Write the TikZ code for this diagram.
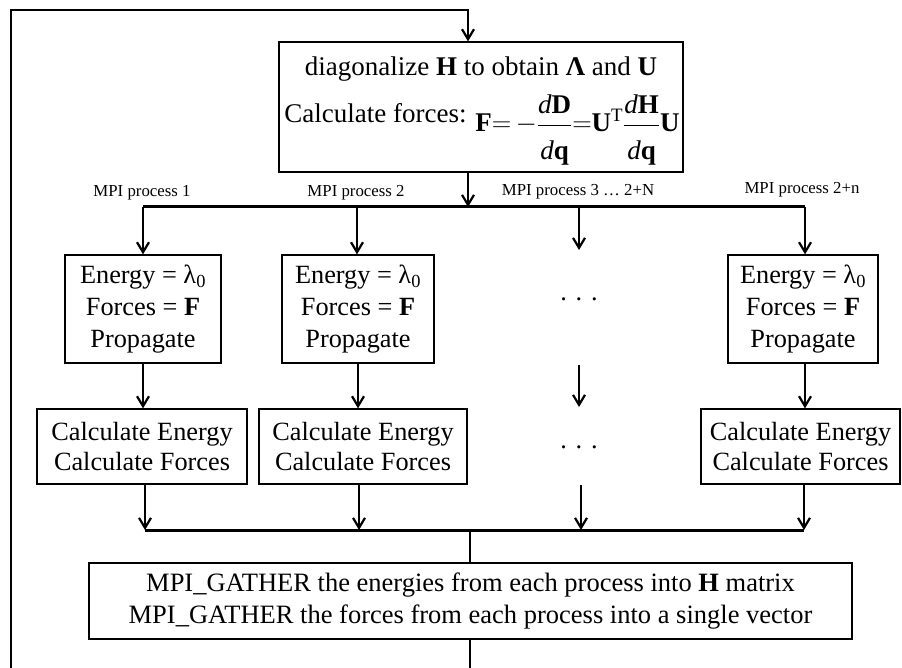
\documentclass[tikz,border=0pt]{standalone}
\usepackage{fix-cm}
\usepackage{amsmath}
\usepackage{fontspec}
\setmainfont{Liberation Serif}
\usetikzlibrary{arrows.meta,calc}
\newcommand{\boxsz}{\fontsize{26.3}{32}\selectfont}
\newcommand{\calcsz}{\fontsize{26.3}{30}\selectfont}
\newcommand{\topsz}{\fontsize{27}{32}\selectfont}
\newcommand{\labsz}{\fontsize{16.8}{20}\selectfont}
\newcommand{\gathsz}{\fontsize{26.5}{32}\selectfont}
\newcommand{\myfr}[2]{\genfrac{}{}{0.9pt}{0}{#1}{\rule{0pt}{31pt}#2}}
\tikzset{
  box/.style={draw, line width=1.3pt, align=center, inner sep=0pt},
  conn/.style={line width=2.2pt},
  arr/.style={conn, -{Straight Barb[length=10pt,width=12pt]}},
  bus/.style={line width=3pt},
  lab/.style={font=\labsz, inner sep=0pt},
  txt/.style={inner sep=0pt, align=center},
}
\begin{document}
\begin{tikzpicture}[x=1pt,y=-1pt]
\useasboundingbox (0,0) rectangle (902,668);
% top box
\node[box, minimum width=404pt, minimum height=130pt] (top) at (481,107) {};
\node[txt, font=\topsz] (topl1) at (481,69) {diagonalize \textbf{H} to obtain \textbf{Λ} and \textbf{U}};
\node[txt, font=\topsz, anchor=base] (topl2) at (482,123) {Calculate forces: \raisebox{-9pt}{$\textbf{F}\mathord{=}\,\mathord{-}\myfr{\textit{d}\textbf{D}}{\textit{d}\textbf{q}}\mathord{=}\textbf{U}^{\text{T}}\myfr{\textit{d}\textbf{H}}{\textit{d}\textbf{q}}\textbf{U}$}};
% labels
\node[lab] (lab1) at (142,193) {MPI process 1};
\node[lab] (lab2) at (356,193) {MPI process 2};
\node[lab] (lab3) at (578,192) {MPI process 3 … 2+N};
\node[lab] (lab4) at (802,190) {MPI process 2+n};
% process boxes
\node[box, font=\boxsz, minimum width=156pt, minimum height=108pt] (p1) at (143,309) {Energy = λ\textsubscript{0}\\Forces = \textbf{F}\\Propagate};
\node[box, font=\boxsz, minimum width=152pt, minimum height=108pt] (p2) at (358,309) {Energy = λ\textsubscript{0}\\Forces = \textbf{F}\\Propagate};
\node[box, font=\boxsz, minimum width=150pt, minimum height=108pt] (p4) at (803,309) {Energy = λ\textsubscript{0}\\Forces = \textbf{F}\\Propagate};
\node[txt, font=\boxsz] (dots1) at (579,299) {.\,\,.\,\,.};
% calc boxes
\node[box, font=\calcsz, minimum width=210pt, minimum height=75pt] (c1) at (142,446.5) {Calculate Energy\\Calculate Forces};
\node[box, font=\calcsz, minimum width=208pt, minimum height=75pt] (c2) at (363,446.5) {Calculate Energy\\Calculate Forces};
\node[box, font=\calcsz, minimum width=199pt, minimum height=75pt] (c4) at (800.5,446.5) {Calculate Energy\\Calculate Forces};
\node[txt, font=\boxsz] (dots2) at (579,447) {.\,\,.\,\,.};
% gather box
\node[box, font=\gathsz, minimum width=763pt, minimum height=76pt] (g) at (470.5,601) {MPI\_GATHER the energies from each process into \textbf{H} matrix\\MPI\_GATHER the forces from each process into a single vector};
% coordinates
\coordinate (b1) at (143,207);
\coordinate (b2) at (357,207);
\coordinate (b3) at (579,207);
\coordinate (b4) at (805,207);
\coordinate (m3a) at (579,365);
\coordinate (m3b) at (579,407);
\coordinate (m3c) at (581,485);
\coordinate (g1) at (145,530);
\coordinate (g2) at (359,530);
\coordinate (g3) at (581,530);
\coordinate (g4) at (804,530);
\coordinate (gm) at (470,530);
% loop
\draw[arr] (470,0 |- g.south) -- (470,675) -- (11,675) -- (11,10) -- (468,10) -- (468,0 |- top.north);
% top to bus
\draw[arr] (468,0 |- top.south) -- (468,207);
\draw[bus] (b1) -- (b4);
\draw[arr] (b1) -- (b1 |- p1.north);
\draw[arr] (b2) -- (b2 |- p2.north);
\draw[arr] (b3) -- (579,250);
\draw[arr] (b4) -- (b4 |- p4.north);
% process to calc
\draw[arr] (p1.south) -- (p1.south |- c1.north);
\draw[arr] (p2.south) -- (p2.south |- c2.north);
\draw[arr] (m3a) -- (m3b);
\draw[arr] (805,0 |- p4.south) -- (805,0 |- c4.north);
% calc to gather bus
\draw[arr] (g1 |- c1.south) -- (g1);
\draw[arr] (g2 |- c2.south) -- (g2);
\draw[arr] (m3c) -- (g3);
\draw[arr] (g4 |- c4.south) -- (g4);
\draw[bus] (g1) -- (g4);
\draw[conn] (gm) -- (gm |- g.north);
\end{tikzpicture}
\end{document}
